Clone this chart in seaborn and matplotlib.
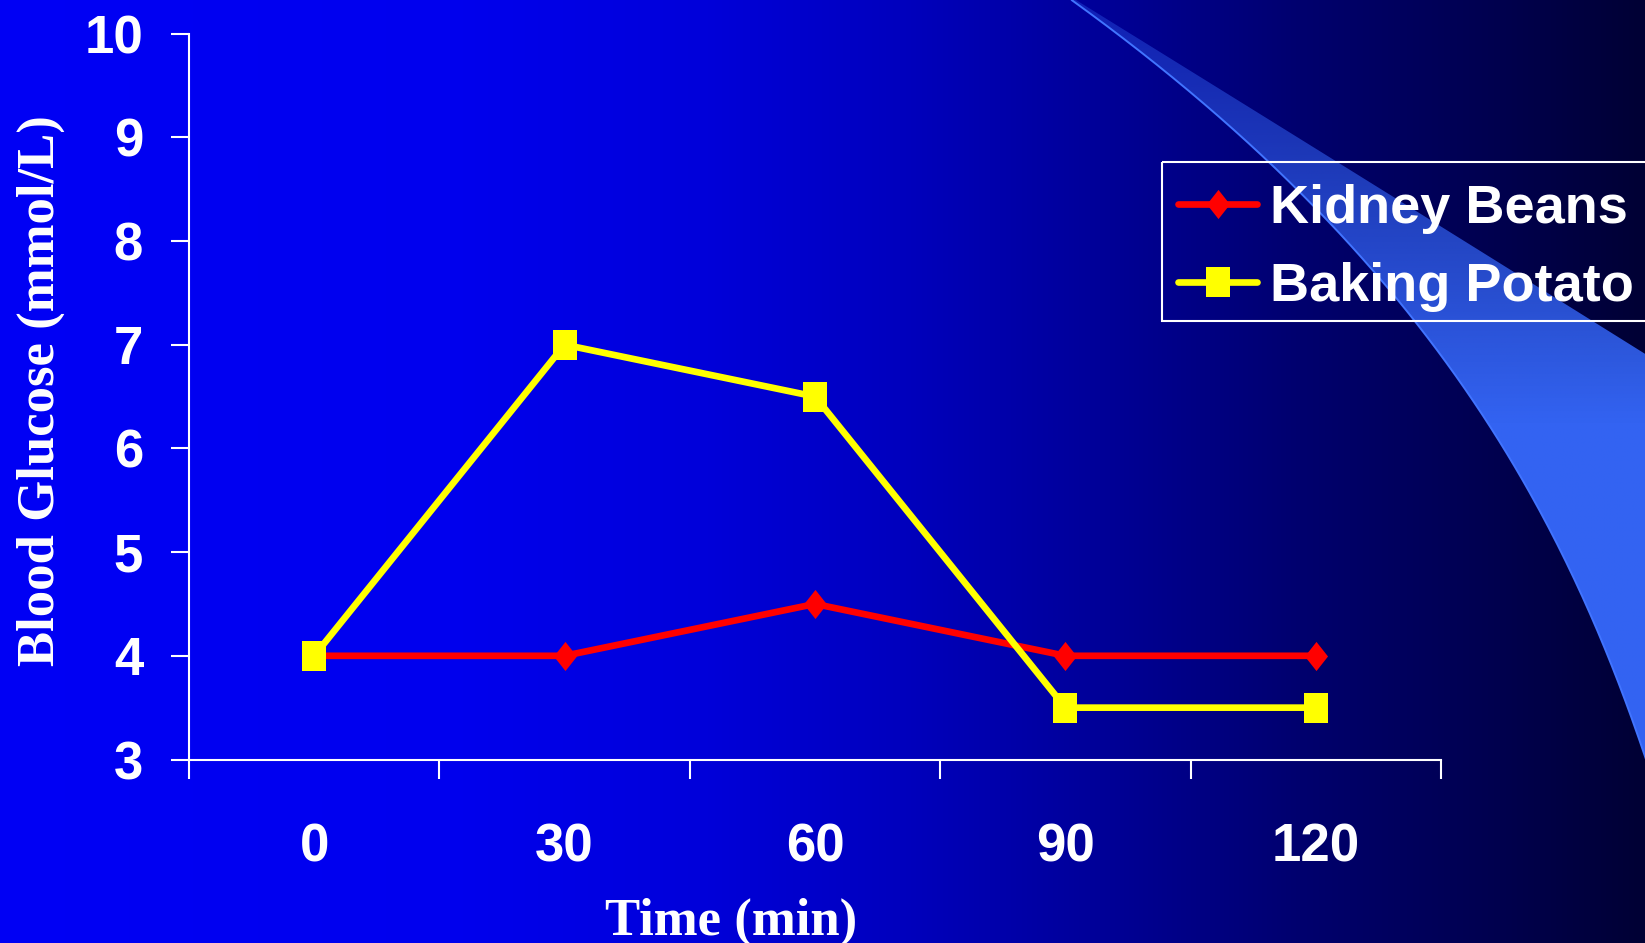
import numpy as np
import pandas as pd
import matplotlib
matplotlib.use("Agg")
import matplotlib.pyplot as plt
from matplotlib.patches import Polygon, Rectangle
from matplotlib.font_manager import FontProperties
import seaborn as sns

# ---- data -------------------------------------------------------------
times = ["0", "30", "60", "90", "120"]
kidney_beans = [4.0, 4.0, 4.5, 4.0, 4.0]
baking_potato = [4.0, 7.0, 6.5, 3.5, 3.5]
series_names = ["Kidney Beans", "Baking Potato"]
series_colors = ["#FF0000", "#FFFF00"]
y_ticks = [3, 4, 5, 6, 7, 8, 9, 10]

df = pd.DataFrame({
    "Time": times * 2,
    "Glucose": kidney_beans + baking_potato,
    "Food": [series_names[0]] * len(times) + [series_names[1]] * len(times),
})

# ---- style ------------------------------------------------------------
sns.set_style("ticks")
plt.rcParams["font.family"] = ["Liberation Sans", "DejaVu Sans"]
plt.rcParams["font.weight"] = "bold"

W, H = 1645, 943
fig = plt.figure(figsize=(W / 100, H / 100), dpi=100)

# ---- slide background: horizontal blue gradient + light swoosh ---------
bg = fig.add_axes([0, 0, 1, 1], zorder=-5)
bg.set_xlim(0, W)
bg.set_ylim(H, 0)
bg.axis("off")

xs = np.arange(W)
stop_x = [0, 450, 700, 900, 1100, 1300, 1500, 1645]
stop_b = [245, 238, 218, 190, 152, 110, 78, 52]
grad = np.zeros((2, W, 3))
grad[..., 2] = np.interp(xs, stop_x, stop_b) / 255.0
bg.imshow(grad, extent=[0, W, H, 0], aspect="auto", interpolation="bilinear", zorder=0)

# swoosh edges
low_pts = np.array([(1067, 0), (1133, 43), (1203, 100), (1267, 160), (1333, 227),
                    (1400, 307), (1472, 400), (1520, 475), (1560, 550), (1600, 633),
                    (1627, 700), (1645, 763)], dtype=float)
up_pts = np.array([(1077, 0), (1233, 100), (1333, 157), (1443, 227), (1567, 307),
                   (1645, 353)], dtype=float)
low_fit = np.polyfit(low_pts[:, 1], low_pts[:, 0], 3)
up_fit = np.polyfit(up_pts[:, 0], up_pts[:, 1], 2)

ly = np.linspace(0, 860, 200)
lx = np.polyval(low_fit, ly)
ux = np.linspace(1700, 1070, 200)
uy = np.polyval(up_fit, ux)
band_verts = np.vstack([np.column_stack([lx, ly]),
                        [[1720, 860], [1720, uy[0]]],
                        np.column_stack([ux, uy])])
band = Polygon(band_verts, closed=True, facecolor="none", edgecolor="none")
bg.add_patch(band)

gy = np.linspace(0, 1, 300)[:, None] * np.ones((1, 10))
band_img = np.zeros((300, 10, 4))
band_img[..., 0] = 0.20
band_img[..., 1] = 0.39
band_img[..., 2] = 0.95
band_img[..., 3] = np.clip(0.32 + gy * H / 420 * 0.68, 0, 1)
im = bg.imshow(band_img, extent=[0, W, H, 0], aspect="auto", interpolation="bilinear", zorder=1)
im.set_clip_path(band)

edge_mask = ly < 800
bg.plot(lx[edge_mask], ly[edge_mask], color="#4174FF", lw=1.4, zorder=2)

# legend frame (runs off the right edge of the slide)
bg.add_patch(Rectangle((1162, 162), 700, 321 - 162, facecolor="none",
                       edgecolor="white", linewidth=1.5, zorder=3))

# ---- chart ------------------------------------------------------------
ax_l, ax_r, ax_t, ax_b = 189, 1441, 33.6, 759.5
ax = fig.add_axes([ax_l / W, 1 - ax_b / H, (ax_r - ax_l) / W, (ax_b - ax_t) / H])
ax.set_facecolor("none")

diamond = np.array([(0, 1), (0.79, 0), (0, -1), (-0.79, 0), (0, 1)])
square = np.array([(-0.78, -0.93), (0.78, -0.93), (0.78, 0.93), (-0.78, 0.93), (-0.78, -0.93)])

sns.lineplot(
    data=df, x="Time", y="Glucose", hue="Food", style="Food",
    hue_order=series_names, style_order=series_names,
    palette=series_colors, markers=[diamond, square], dashes=False,
    linewidth=4.8, markersize=21, markeredgewidth=0,
    sort=False, legend=False, errorbar=None, ax=ax,
)

ax.set_xlim(-0.5, 4.5)
ax.set_ylim(3, 10)
ax.set_yticks(y_ticks)
ax.set_yticklabels([str(v) for v in y_ticks])
ax.set_xticks(range(len(times)))
ax.set_xticklabels(times)
ax.set_xticks(np.arange(-0.5, len(times), 1.0), minor=True)

ax.tick_params(axis="x", which="major", length=0, pad=45.5, labelsize=38, labelcolor="white")
ax.tick_params(axis="x", which="minor", length=13.7, width=1.5, color="white", direction="out")
ax.tick_params(axis="y", which="major", length=13, width=1.5, color="white", direction="out",
               pad=20, labelsize=38, labelcolor="white")
for lbl in ax.get_xticklabels() + ax.get_yticklabels():
    lbl.set_fontweight("bold")

sns.despine(ax=ax)
for side in ("left", "bottom"):
    ax.spines[side].set_color("white")
    ax.spines[side].set_linewidth(1.5)

serif = ["Liberation Serif", "DejaVu Serif"]
ax.set_xlabel("Time (min)", family=serif, fontweight="bold", fontsize=38, color="white")
ax.xaxis.label.set_va("baseline")
ax.xaxis.set_label_coords((731 - ax_l) / (ax_r - ax_l), (ax_b - 935) / (ax_b - ax_t))

ax.set_ylabel("Blood Glucose (mmol/L)", family=serif, fontweight="bold", fontsize=38, color="white")
ax.yaxis.label.set_va("center")
ax.yaxis.set_label_coords((41 - ax_l) / (ax_r - ax_l), (ax_b - 390.5) / (ax_b - ax_t))

# ---- legend entries (frame drawn separately above) ---------------------
leg = ax.legend(
    ax.lines[:2], series_names,
    loc="upper left",
    bbox_to_anchor=(1178 / W, 1 - 184 / H),
    bbox_transform=fig.transFigure,
    borderaxespad=0, borderpad=0, frameon=False,
    prop=FontProperties(family="Liberation Sans", weight="bold", size=39),
    labelcolor="white", handlelength=1.46, handletextpad=0.24,
    labelspacing=0.52, numpoints=1,
)

fig.savefig("out.png", dpi=100)
